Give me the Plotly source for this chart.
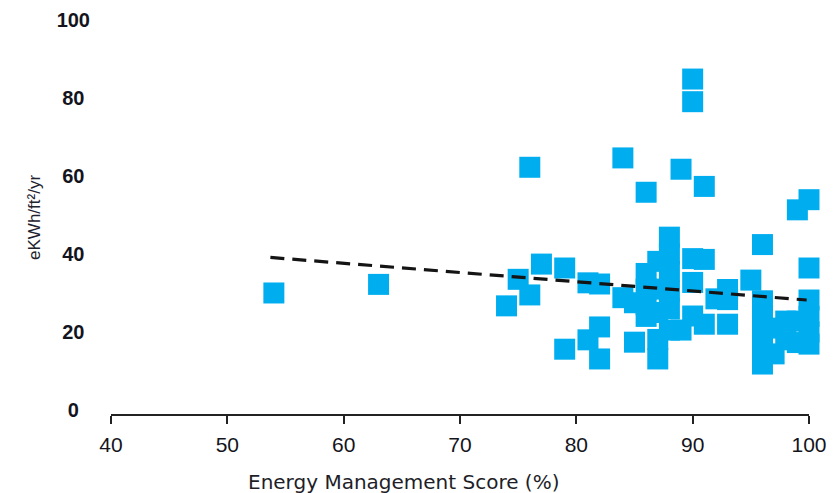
import plotly.graph_objects as go

# Energy management score (%) and energy use intensity (eKWh/ft²/yr) per site
score = [
    54, 63, 74, 75, 76, 77, 76, 79, 79, 81, 82, 81, 82, 82,
    84, 86, 89, 91, 90, 90, 96, 99, 100, 100,
    84, 85, 86, 86, 86, 86, 85, 87, 87, 87, 87, 87,
    88, 88, 88, 88, 88, 88, 89,
    90, 91, 90, 90, 91, 92, 93, 93, 93, 95,
    96, 96, 96, 96, 96, 97, 97, 98, 98, 99, 99,
    100, 100, 100, 100,
]
intensity = [
    30.0, 32.2, 26.7, 33.5, 29.5, 37.4, 62.2, 36.4, 15.6, 32.6, 32.3, 18.0, 21.3, 13.1,
    64.6, 55.8, 61.7, 57.3, 84.8, 79.0, 42.4, 51.3, 53.9, 36.4,
    28.8, 27.5, 35.0, 31.0, 27.0, 24.0, 17.4, 38.1, 31.0, 25.0, 18.1, 13.1,
    44.3, 40.0, 35.5, 30.5, 26.0, 20.5, 20.5,
    38.8, 38.6, 32.7, 24.1, 22.0, 28.5, 30.9, 28.3, 22.0, 33.3,
    28.0, 24.0, 20.0, 16.0, 11.8, 21.0, 14.4, 22.8, 18.0, 22.8, 17.3,
    28.2, 24.0, 20.0, 16.9,
]

# Linear trend endpoints
trend_x = [53.7, 99.8]
trend_y = [39.1, 28.2]

x_ticks = [40, 50, 60, 70, 80, 90, 100]
y_ticks = [0, 20, 40, 60, 80, 100]
y_tick_labels = ["0", "20", "40", "60", "80", "100"]

# centre the y tick labels: pad shorter labels with half-digit spaces
widest = max(len(t) for t in y_tick_labels)
y_tick_text = [t + "\u00a0" * (widest - len(t)) for t in y_tick_labels]

fig = go.Figure()
fig.add_trace(go.Scatter(
    x=score, y=intensity, mode="markers",
    marker=dict(symbol="square", size=21, color="#00AEEF", line=dict(width=0)),
    cliponaxis=False, showlegend=False, hoverinfo="x+y",
))
fig.add_trace(go.Scatter(
    x=trend_x, y=trend_y, mode="lines",
    line=dict(color="#141414", width=3.2, dash="14px,8px"),
    cliponaxis=False, showlegend=False, hoverinfo="skip",
))

fig.update_layout(
    width=835, height=493,
    margin=dict(l=111, r=18, t=8, b=79),
    paper_bgcolor="white", plot_bgcolor="white",
    font=dict(family="Liberation Sans, Arial, sans-serif", color="#141420"),
    xaxis=dict(
        range=[40, 100], tickvals=x_ticks, showgrid=False, zeroline=False,
        showline=True, linecolor="#222", linewidth=1.5,
        ticks="outside", ticklen=8, tickwidth=1.5, tickcolor="#222",
        tickfont=dict(size=21, color="#141420"), ticklabelstandoff=3,
    ),
    yaxis=dict(
        range=[-1, 103], tickvals=y_ticks, ticktext=y_tick_text,
        showgrid=False, zeroline=False, showline=False, ticks="",
        tickfont=dict(size=20, color="#141420", weight="bold"),
        ticklabelstandoff=20,
    ),
    annotations=[
        dict(text="Energy Management Score (%)", xref="paper", yref="paper",
             x=0.419, y=-0.168, xanchor="center", yanchor="middle", showarrow=False,
             font=dict(family="DejaVu Sans, sans-serif", size=20, color="#1e1e28")),
        dict(text="eKWh/ft²/yr", xref="paper", yref="paper",
             x=-0.1105, y=0.485, xanchor="center", yanchor="middle", showarrow=False,
             textangle=-90, font=dict(size=17, color="#22222e")),
    ],
)

fig.write_html("out.html")
